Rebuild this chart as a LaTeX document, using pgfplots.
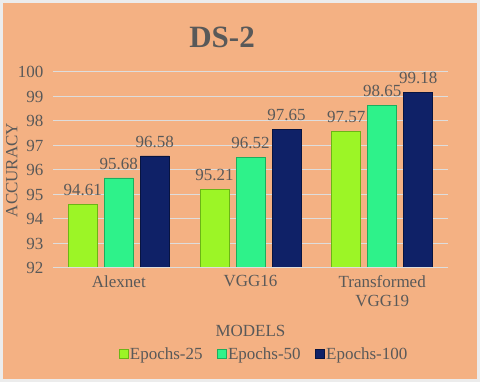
\documentclass[border=0pt]{standalone}
\usepackage{pgfplots}
\pgfplotsset{compat=1.18}
\usepackage{fontspec}
\setmainfont{Liberation Serif}

\definecolor{bgorange}{HTML}{F4B183}
\definecolor{txtgray}{HTML}{595959}
\definecolor{gridgray}{HTML}{DDDDDD}
\definecolor{cA}{HTML}{9CF526}
\definecolor{cAd}{HTML}{6BB515}
\definecolor{cB}{HTML}{2EF28A}
\definecolor{cBd}{HTML}{1BAE5E}
\definecolor{cC}{HTML}{0F2167}
\definecolor{cCd}{HTML}{081440}

\begin{document}
\begin{tikzpicture}
  % frame and background
  \fill[gray!15] (0pt,0pt) rectangle (480pt,382pt);
  \fill[bgorange] (3pt,3pt) rectangle (477pt,379pt);

  \begin{axis}[
    at={(53pt,114pt)}, anchor=south west,
    scale only axis,
    width=395pt, height=196pt,
    ybar=7pt, bar width=29pt,
    xmin=-0.5, xmax=2.5,
    ymin=92, ymax=100,
    ytick={92,93,...,100},
    xtick={0,1,2},
    xticklabels={Alexnet, VGG16, {Transformed\\VGG19}},
    axis line style={draw=none},
    major tick length=0pt,
    ymajorgrids,
    grid style={gridgray, line width=1pt},
    font=\fontsize{17}{19}\selectfont,
    /pgf/number format/assume math mode=true,
    tick label style={text=txtgray},
    yticklabel style={xshift=-6pt},
    xticklabel style={align=center, anchor=north, yshift=-4pt},
    title={DS-2},
    title style={at={(axis description cs:0.428,1.145)}, anchor=center,
      font=\fontsize{31}{34}\selectfont\bfseries, text=txtgray},
    xlabel={MODELS},
    xlabel style={at={(axis description cs:0.5,-0.321)}, anchor=center, text=txtgray},
    ylabel={ACCURACY},
    ylabel style={at={(axis description cs:-0.104,0.5)}, anchor=center, text=txtgray},
    nodes near coords,
    nodes near coords style={text=txtgray, yshift=5pt,
      /pgf/number format/.cd, fixed, precision=2, fixed zerofill},
    legend style={at={(axis description cs:0.534,-0.439)}, anchor=center,
      draw=none, fill=none, legend columns=3, text=txtgray,
      /tikz/every even column/.append style={column sep=12pt}},
    legend image code/.code={
      \draw[#1] (-3pt,-4.5pt) rectangle (6pt,4.5pt);
    },
  ]
    \addplot[fill=cA, draw=cAd] coordinates {(0,94.61) (1,95.21) (2,97.57)};
    \addplot[fill=cB, draw=cBd] coordinates {(0,95.68) (1,96.52) (2,98.65)};
    \addplot[fill=cC, draw=cCd] coordinates {(0,96.58) (1,97.65) (2,99.18)};
    \draw[gridgray, line width=1pt] (rel axis cs:0,0) -- (rel axis cs:1,0);
    \legend{Epochs-25, Epochs-50, Epochs-100}
  \end{axis}
\end{tikzpicture}
\end{document}
